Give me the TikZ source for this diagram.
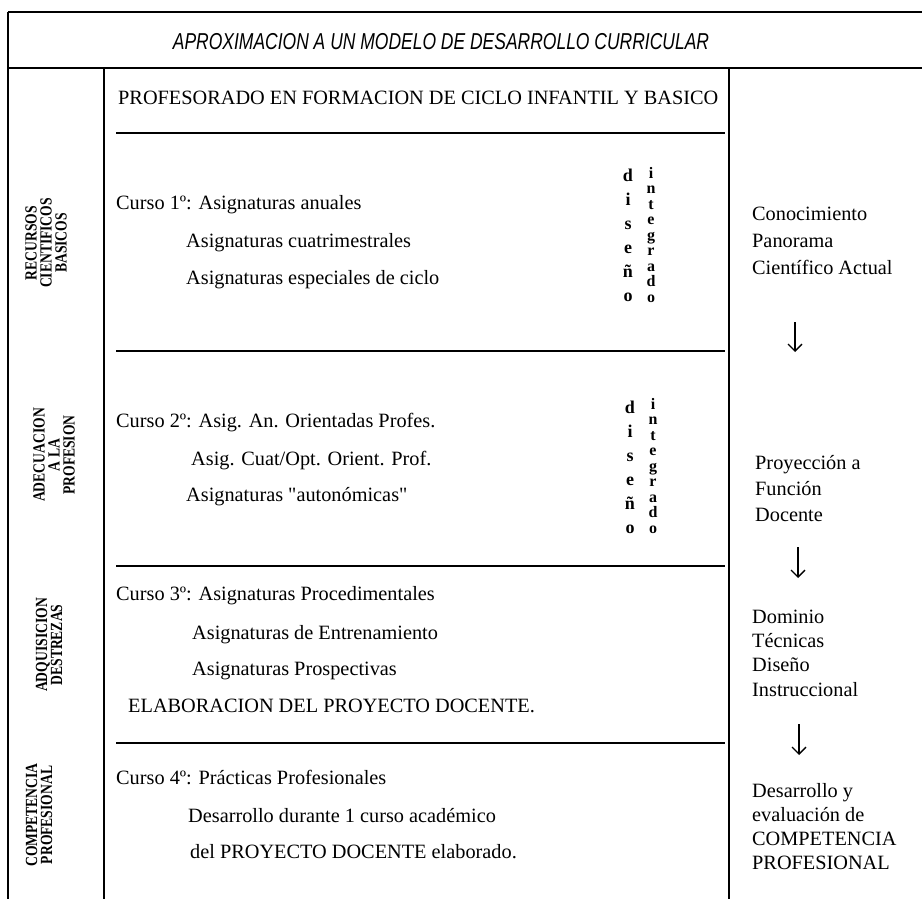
\documentclass[tikz,border=0pt]{standalone}
\usepackage{fontspec}
\setmainfont{Liberation Serif}
\newfontfamily\qfont{Liberation Serif}
\newfontfamily\titlefont[FakeStretch=0.76]{Liberation Sans}
\newfontfamily\labfont[FakeStretch=0.8]{Liberation Serif}
\usetikzlibrary{arrows.meta}
\newcommand{\tightlines}{\lineskiplimit=-50pt\relax\lineskip=0pt\relax}
\newcommand{\sq}{{\qfont\char34}}
\begin{document}
\begin{tikzpicture}[x=1pt,y=-1pt,
  frame/.style={line width=2.5pt},
  rulel/.style={line width=1.3pt},
  txt/.style={anchor=base west, inner sep=0pt, font=\fontsize{20.3}{23}\selectfont},
  side/.style={anchor=base west, inner sep=0pt, align=left},
  lab/.style={rotate=90, align=center, inner sep=0pt, font=\labfont\bfseries\fontsize{17}{15}\selectfont, execute at begin node=\tightlines},
  stackA/.style={inner sep=0pt, align=center, font=\bfseries\fontsize{18}{24}\selectfont, execute at begin node=\tightlines},
  stackB/.style={inner sep=0pt, align=center, font=\bfseries\fontsize{16}{15.5}\selectfont, execute at begin node=\tightlines},
  arr/.style={-{Straight Barb[length=7pt,width=14pt]}, line width=1.3pt}
]
\useasboundingbox (0,0) rectangle (922,899);
% frame
\draw[frame] (8,12) -- (922,12);
\draw[frame] (8,68) -- (922,68);
\draw[frame] (8,12) -- (8,899);
\draw[frame] (104,68) -- (104,899);
\draw[frame] (729,68) -- (729,899);
% rules
\draw[rulel] (116,133) -- (725,133);
\draw[rulel] (116,351) -- (725,351);
\draw[rulel] (116,566) -- (725,566);
\draw[rulel] (116,743) -- (725,743);
% title
\node[inner sep=0pt, font=\titlefont\itshape\fontsize{23}{26}\selectfont] (title) at (441,42) {APROXIMACION A UN MODELO DE DESARROLLO CURRICULAR};
% left labels
\node[lab] (l1) at (46,243) {RECURSOS\\CIENTIFICOS\\BASICOS};
\node[lab] (l2) at (54,455) {ADECUACION\\A LA\\PROFESION};
\node[lab] (l3) at (49,645) {ADQUISICION\\DESTREZAS};
\node[lab] (l4) at (39,815) {COMPETENCIA\\PROFESIONAL};
% main text
\node[txt] (h) at (118,105) {PROFESORADO EN FORMACION DE CICLO INFANTIL Y BASICO};
\node[txt] (s1a) at (116,209) {Curso 1º: Asignaturas anuales};
\node[txt] (s1b) at (186,247) {Asignaturas cuatrimestrales};
\node[txt] (s1c) at (186,284) {Asignaturas especiales de ciclo};
\node[txt] (s2a) at (116,427) {Curso 2º: Asig. An. Orientadas Profes.};
\node[txt] (s2b) at (191,465) {Asig. Cuat/Opt. Orient. Prof.};
\node[txt] (s2c) at (186,501) {Asignaturas \sq autonómicas\sq};
\node[txt] (s3a) at (116,600) {Curso 3º: Asignaturas Procedimentales};
\node[txt] (s3b) at (192,639) {Asignaturas de Entrenamiento};
\node[txt] (s3c) at (192,675) {Asignaturas Prospectivas};
\node[txt] (s3d) at (128,712) {ELABORACION DEL PROYECTO DOCENTE.};
\node[txt] (s4a) at (116,784) {Curso 4º: Prácticas Profesionales};
\node[txt] (s4b) at (188,822) {Desarrollo durante 1 curso académico};
\node[txt] (s4c) at (190,858) {del PROYECTO DOCENTE elaborado.};
% vertical stacks
\node[stackA] (d1) at (628,235) {d\\i\\s\\e\\ñ\\o};
\node[stackB] (i1) at (651,235) {i\\n\\t\\e\\g\\r\\a\\d\\o};
\node[stackA] (d2) at (630,467) {d\\i\\s\\e\\ñ\\o};
\node[stackB] (i2) at (653,466) {i\\n\\t\\e\\g\\r\\a\\d\\o};
% right column (base anchor = last line)
\node[side, font=\fontsize{20.3}{27}\selectfont] (r1) at (752,274) {Conocimiento\\Panorama\\Científico Actual};
\node[side, font=\fontsize{20.3}{26}\selectfont] (r2) at (755,521) {Proyección a\\Función\\Docente};
\node[side, font=\fontsize{20.3}{24.3}\selectfont] (r3) at (752,696) {Dominio\\Técnicas\\Diseño\\Instruccional};
\node[side, font=\fontsize{20.3}{24}\selectfont] (r4) at (752,869) {Desarrollo y\\evaluación de\\COMPETENCIA\\PROFESIONAL};
% arrows
\coordinate (a1s) at (795,322); \coordinate (a1e) at (795,352);
\coordinate (a2s) at (798,547); \coordinate (a2e) at (798,578);
\coordinate (a3s) at (799,724); \coordinate (a3e) at (799,755);
\draw[arr] (a1s) -- (a1e);
\draw[arr] (a2s) -- (a2e);
\draw[arr] (a3s) -- (a3e);
\end{tikzpicture}
\end{document}
